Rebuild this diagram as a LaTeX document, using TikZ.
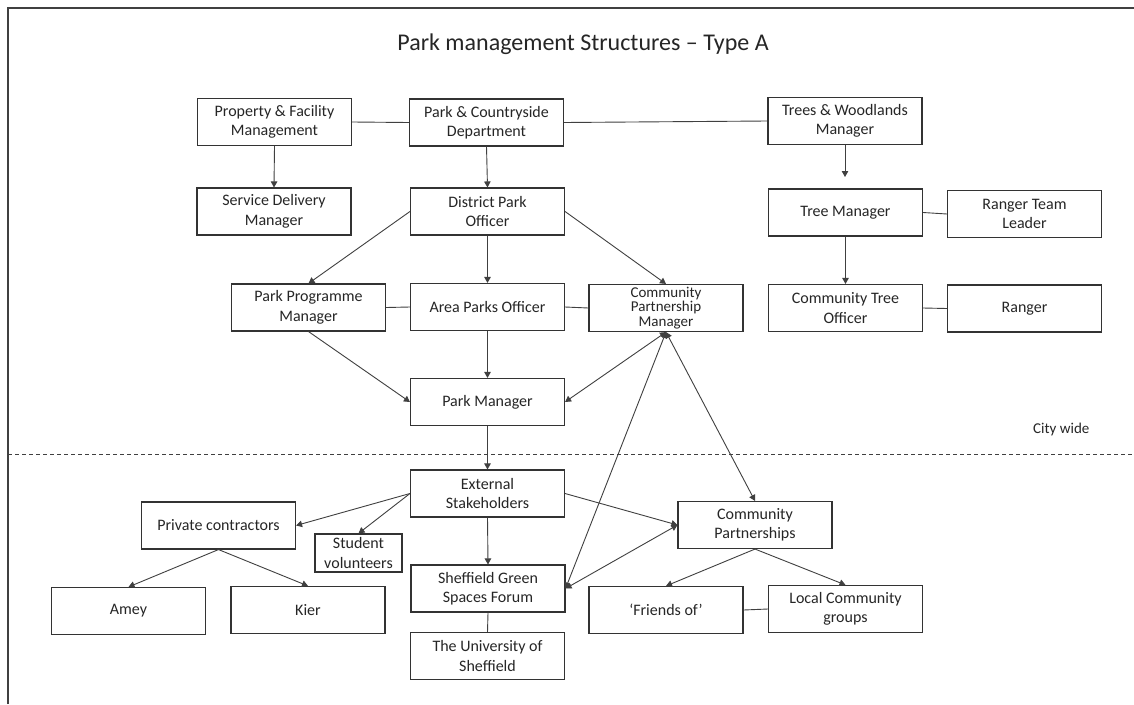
\documentclass[tikz,border=0pt]{standalone}
\usepackage{fontspec}
\setmainfont{Carlito}
\usetikzlibrary{arrows.meta}
\definecolor{boxc}{HTML}{333333}
\definecolor{linec}{HTML}{404040}
\definecolor{txtc}{HTML}{262626}
\begin{document}
\begin{tikzpicture}[x=1pt,y=-1pt,
  box/.style={draw=boxc, line width=1.1pt, fill=white, minimum width=154pt, minimum height=47pt, inner sep=1pt, align=center, font=\fontsize{16}{19.5}\selectfont, text=txtc},
  conn/.style={draw=linec, line width=0.9pt},
  arr/.style={conn, -{Triangle[length=6pt,width=6.5pt]}},
  darr/.style={conn, {Triangle[length=6pt,width=6.5pt]}-{Triangle[length=6pt,width=6.5pt]}},
  frame/.style={draw=linec, line width=1.4pt},
]
\fill[white] (0,0) rectangle (1134,704);
\useasboundingbox (0,0) rectangle (1134,704);
\draw[frame] (8,704) -- (8,8) -- (1134,8);

\node[font=\fontsize{24}{29}\selectfont, text=txtc] (title) at (583,44) {Park management Structures – Type A};

% nodes
\node[box] (pfm) at (274.5,122) {Property \& Facility\\Management};
\node[box] (pcd) at (486.5,122.5) {Park \& Countryside\\Department};
\node[box] (tw) at (845,121) {Trees \& Woodlands\\Manager};
\node[box] (sdm) at (274,211.5) {Service Delivery\\Manager};
\node[box] (dpo) at (487.5,211.5) {District Park\\Officer};
\node[box] (tm) at (845.5,212.5) {Tree Manager};
\node[box] (rtl) at (1024.5,214) {Ranger Team\\Leader};
\node[box] (ppm) at (308.5,307.5) {Park Programme\\Manager};
\node[box] (apo) at (487.5,307) {Area Parks Officer};
\node[box, font=\fontsize{15}{14.6}\selectfont, inner sep=0pt] (cpm) at (666,308) {Community\\Partnership\\Manager};
\node[box] (cto) at (845.5,308) {Community Tree\\Officer};
\node[box] (ranger) at (1024.5,308.5) {Ranger};
\node[box] (pm) at (487.5,402) {Park Manager};
\node[box] (es) at (487.5,493.5) {External\\Stakeholders};
\node[box] (cp) at (755,525) {Community\\Partnerships};
\node[box] (pc) at (218.5,525.5) {Private contractors};
\node[box, minimum width=87pt, minimum height=38pt] (sv) at (358.5,553) {Student\\volunteers};
\node[box] (sgsf) at (488,588.5) {Sheffield Green\\Spaces Forum};
\node[box] (amey) at (128.5,611) {Amey};
\node[box] (kier) at (308,610) {Kier};
\node[box] (fo) at (666,610) {‘Friends of’};
\node[box] (lcg) at (845.5,609) {Local Community\\groups};
\node[box] (uos) at (487.5,656) {The University of\\Sheffield};

\coordinate (twend) at (845,177);

% divider
\draw[draw=linec, line width=0.9pt, dash pattern=on 4pt off 3pt] (8,454) -- (1134,454);
\node[anchor=base west, inner sep=0pt, font=\fontsize{15}{18}\selectfont, text=txtc] (city) at (1033,433) {City wide};

% connectors
\draw[conn] (pfm.east) -- (pcd.west);
\draw[conn] (pcd.east) -- (tw.west);
\draw[arr] (pfm.south) -- (sdm.north);
\draw[arr] (pcd.south) -- (dpo.north);
\draw[arr] (tw.south) -- (twend);
\draw[arr] (dpo.west) -- (ppm.north);
\draw[arr] (dpo.south) -- (apo.north);
\draw[arr] (dpo.east) -- (cpm.north);
\draw[conn] (tm.east) -- (rtl.west);
\draw[arr] (tm.south) -- (cto.north);
\draw[conn] (ppm.east) -- (apo.west);
\draw[conn] (apo.east) -- (cpm.west);
\draw[conn] (cto.east) -- (ranger.west);
\draw[arr] (ppm.south) -- (pm.west);
\draw[arr] (apo.south) -- (pm.north);
\draw[darr] (pm.east) -- (cpm.south);
\draw[arr] (pm.south) -- (es.north);
\draw[arr] (es.west) -- (pc.east);
\draw[arr] (es.west) -- (sv.north);
\draw[arr] (es.south) -- (sgsf.north);
\draw[arr] (es.east) -- (cp.west);
\draw[darr] (sgsf.east) -- (cp.west);
\draw[darr] (sgsf.east) -- (cpm.south);
\draw[darr] (cp.north) -- (cpm.south);
\draw[conn] (sgsf.south) -- (uos.north);
\draw[arr] (pc.south) -- (amey.north);
\draw[arr] (pc.south) -- (kier.north);
\draw[arr] (cp.south) -- (fo.north);
\draw[arr] (cp.south) -- (lcg.north);
\draw[conn] (fo.east) -- (lcg.west);
\end{tikzpicture}
\end{document}
